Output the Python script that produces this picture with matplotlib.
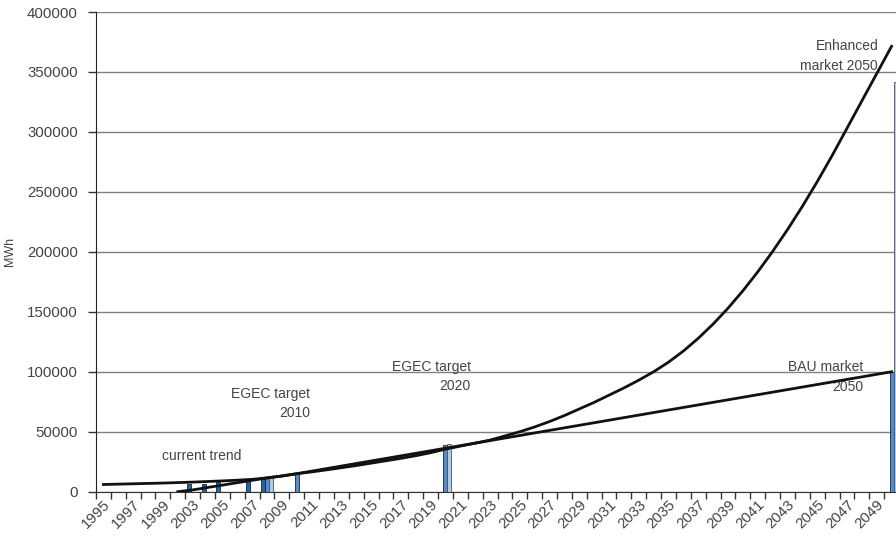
import matplotlib
matplotlib.use("Agg")
import matplotlib.pyplot as plt
import numpy as np

plt.rcParams["font.family"] = ["Liberation Sans", "DejaVu Sans"]

# categories on the x axis (one year is missing between 1999 and 2003)
years = [1995, 1996, 1997, 1998, 1999, 2002] + list(range(2003, 2051))

# BAU market line (MWh)
bau_years = [1995, 1996, 1997, 1998, 1999, 2002, 2003, 2004, 2005, 2006, 2007,
             2008, 2009, 2010, 2050]
bau_values = [6000, 6300, 6600, 6900, 7200, 7600, 8000, 8500, 9000, 9600, 10300,
              11500, 13000, 15000, 100000]

# Enhanced market line (MWh)
enh_years = list(range(2002, 2051))
enh_values = [0, 1500, 3500, 5500, 7500, 9500, 11500, 13200, 15000, 16500,
              18200, 20000, 21800, 23800, 25800, 27800, 30000, 32500, 35500,
              38000, 40500, 43000, 46500, 50000, 54000, 58500, 63500, 69000,
              74500, 80500, 86500, 93000, 100000, 108000, 117300, 127900,
              139800, 153000, 167500, 183300, 200300, 218500, 237900, 258500,
              280200, 303000, 325800, 348600, 371400]

# bars: current trend, targets, market scenarios
dark_years = [2003, 2004, 2005, 2007, 2008]
dark_values = [6300, 6500, 7700, 9400, 12000]
mid_years = [2008, 2010, 2020, 2050]
mid_values = [12000, 15000, 39000, 100000]
light_years = [2008, 2020, 2050]
light_values = [12000, 40000, 342000]

y_ticks = list(range(0, 400001, 50000))


def idx(yrs):
    return np.array([years.index(y) for y in yrs], dtype=float)


fig = plt.figure(figsize=(8.96, 5.38), dpi=100)
# plot area runs slightly past the right edge of the picture (cropped like the original)
ax = fig.add_axes([96 / 896, 1 - 491.7 / 538, 803 / 896, (491.7 - 12) / 538])

text_col = "#444444"
w = 0.27
ax.bar(idx(dark_years) - 0.27, dark_values, width=w, color="#1668b4",
       edgecolor="#222222", linewidth=0.6, zorder=3)
ax.bar(idx(mid_years), mid_values, width=w, color="#4d8fd6",
       edgecolor="#222222", linewidth=0.6, zorder=3)
ax.bar(idx(light_years) + 0.27, light_values, width=w, color="#aecbec",
       edgecolor="#555555", linewidth=0.6, zorder=3)

ax.plot(idx(bau_years), bau_values, color="#111111", lw=2.0, zorder=4)
ax.plot(idx(enh_years), enh_values, color="#111111", lw=2.0, zorder=4)

ax.set_xlim(-0.5, len(years) - 0.5)
ax.set_ylim(0, 400000)

# y axis
ax.set_yticks(y_ticks)
ax.set_yticklabels([str(v) for v in y_ticks])
ax.yaxis.grid(True, color="#808080", lw=1.0)
ax.set_axisbelow(True)
ax.set_ylabel("MWh", color=text_col, fontsize=9, labelpad=8)

# x axis: labels every other category, tick marks between categories
ax.set_xticks(range(0, len(years), 2))
ax.set_xticklabels([str(years[i]) for i in range(0, len(years), 2)],
                   rotation=45, ha="right", rotation_mode="anchor")
ax.set_xticks(np.arange(-0.5, len(years), 1), minor=True)
ax.tick_params(axis="x", which="major", length=0, pad=4)
ax.tick_params(axis="x", which="minor", length=5, width=1, color="#333333")
ax.tick_params(axis="y", length=6, width=1, color="#333333", pad=7)
ax.tick_params(labelsize=10.8, labelcolor=text_col)

for side in ("top", "right"):
    ax.spines[side].set_visible(False)
ax.spines["left"].set_color("#222222")
ax.spines["bottom"].set_color("#333333")

txt = dict(color=text_col, fontsize=10, linespacing=1.5)
ax.text(3.97, 30100, "current trend", ha="left", va="center", **txt)
ax.text(13.9, 73600, "EGEC target\n2010", ha="right", va="center",
        multialignment="right", **txt)
ax.text(24.7, 96200, "EGEC target\n2020", ha="right", va="center",
        multialignment="right", **txt)
ax.text(51.1, 95800, "BAU market\n2050", ha="right", va="center",
        multialignment="right", **txt)
ax.text(52.1, 363500, "Enhanced\nmarket 2050", ha="right", va="center",
        multialignment="right", **txt)

fig.savefig("out.png", dpi=100)
